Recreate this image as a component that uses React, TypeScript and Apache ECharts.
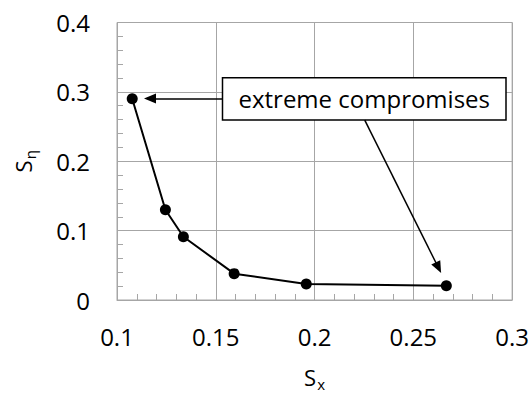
import React, { useEffect, useRef } from "react";
import * as echarts from "echarts";

const sx: number[] = [0.1077, 0.1245, 0.1336, 0.1593, 0.1958, 0.2667];
const seta: number[] = [0.29, 0.13, 0.0912, 0.038, 0.0232, 0.0204];
const annotationText = "extreme compromises";
// annotation box corners (data coords)
const boxFrom: number[] = [0.1534, 0.3205];
const boxTo: number[] = [0.2969, 0.2593];
// arrows: [start, end] in data coords
const arrow1: number[][] = [[0.1534, 0.2906], [0.1167, 0.2906]];
const arrow2: number[][] = [[0.2254, 0.2593], [0.2627, 0.0465]];

const FONT = "Open Sans";
const GRID = "#a6a6a6";

export default function App() {
  const ref = useRef<HTMLDivElement>(null);
  useEffect(() => {
    if (!ref.current) return;
    const chart = echarts.init(ref.current, undefined, { renderer: "svg" });
    const axisCommon = {
      axisLine: { show: true, lineStyle: { color: GRID, width: 1 } },
      axisTick: { show: true, inside: true, length: 6, lineStyle: { color: GRID } },
      minorTick: { show: true, splitNumber: 5, length: 6, lineStyle: { color: GRID, width: 1 } },
      splitLine: { show: true, lineStyle: { color: GRID, width: 1 } },
      axisLabel: { color: "#000", fontSize: 24, fontFamily: FONT },
    };
    const nameRich = {
      s: { fontSize: 22, color: "#000", fontFamily: FONT },
      sub: { fontSize: 15, color: "#000", fontFamily: FONT, padding: [13, 0, 0, 1] },
    };
    chart.setOption({
      animation: false,
      textStyle: { fontFamily: FONT },
      grid: {
        left: 117,
        right: 18,
        top: 22.5,
        bottom: 93,
        show: true,
        borderColor: GRID,
        borderWidth: 1,
      },
      xAxis: {
        type: "value",
        min: 0.1,
        max: 0.3,
        interval: 0.05,
        ...axisCommon,
        axisLabel: { ...axisCommon.axisLabel, margin: 24 },
        name: "{s|S}{sub|x}",
        nameLocation: "middle",
        nameGap: 63,
        nameTextStyle: { rich: nameRich },
      },
      yAxis: {
        type: "value",
        min: 0,
        max: 0.4,
        interval: 0.1,
        ...axisCommon,
        axisLabel: { ...axisCommon.axisLabel, margin: 27 },
        name: "{s|S}{sub|η}",
        nameLocation: "middle",
        nameGap: 80,
        nameTextStyle: { rich: nameRich },
      },
      series: [
        {
          type: "line",
          data: sx.map((x, i) => [x, seta[i]]),
          symbol: "circle",
          symbolSize: 11,
          itemStyle: { color: "#000" },
          lineStyle: { color: "#000", width: 2 },
          silent: true,
          markArea: {
            silent: true,
            itemStyle: { color: "#fff", borderColor: "#000", borderWidth: 1.5 },
            label: {
              show: true,
              position: "inside",
              color: "#000",
              fontSize: 24,
              fontFamily: FONT,
            },
            data: [
              [
                { name: annotationText, coord: boxFrom },
                { coord: boxTo },
              ],
            ],
          },
          markLine: {
            silent: true,
            symbol: ["none", "triangle"],
            symbolSize: [10, 12],
            label: { show: false },
            lineStyle: { color: "#000", width: 1.5, type: "solid" },
            data: [
              [{ coord: arrow1[0] }, { coord: arrow1[1] }],
              [{ coord: arrow2[0] }, { coord: arrow2[1] }],
            ],
          },
        },
      ],
    });
    return () => chart.dispose();
  }, []);
  return <div ref={ref} style={{ width: 532, height: 396, position: "absolute", left: 0, top: 0 }} />;
}
